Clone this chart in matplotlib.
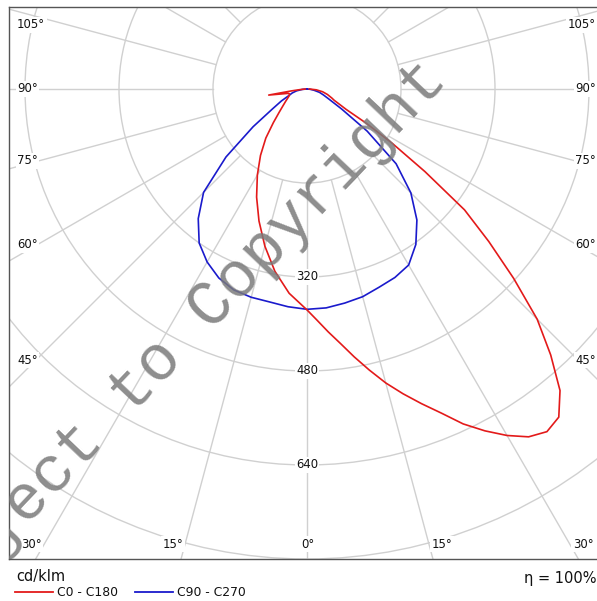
import numpy as np
import matplotlib
matplotlib.use("Agg")
import matplotlib.pyplot as plt
from matplotlib.patches import Circle
from matplotlib.lines import Line2D

# ---------------- data (cd/klm) ----------------
# C0 half-plane (drawn to the right)
gamma_c0 = [0, 2.5, 5, 7.5, 10, 12.5, 15, 17.5, 20, 22.5, 25, 27.5, 30, 32.5, 35,
            37.5, 40, 42.5, 45, 47.5, 50, 52.5, 55, 57.5, 60, 62.5, 65, 67.5, 70,
            75, 80, 85, 90]
i_c0 = [376, 394, 415, 437, 463, 490, 518, 544, 570, 597, 629, 656, 681, 702, 712,
        704, 670, 614, 554, 477, 404, 338, 245, 172, 116, 75, 60, 50, 45,
        36, 27, 16, 4]
# C180 half-plane (drawn to the left)
gamma_c180 = [0, 5, 10, 15, 20, 25, 30, 35, 40, 45, 50, 55, 60, 65, 70, 75, 77, 81, 83, 85, 90]
i_c180 = [376, 349, 315, 277, 239, 203, 169, 138, 109, 81, 62, 50, 42, 36, 32, 31, 33, 66, 27, 12, 3]
# C90 half-plane (right) and C270 half-plane (left)
gamma_c90 = [0, 5, 10, 15, 20, 25, 30, 35, 40, 45, 50, 55, 60, 65, 70, 75, 80, 85, 90]
i_c90 = [375, 374, 370, 366, 359, 354, 346, 323, 291, 250, 198, 125, 68, 42, 30, 22, 12, 5, 0]
gamma_c270 = [0, 5, 10, 15, 20, 25, 30, 35, 40, 45, 50, 55, 60, 65, 70, 75, 80, 85, 90]
i_c270 = [375, 372, 368, 367, 364, 355, 340, 320, 288, 249, 180, 112, 68, 48, 33, 26, 18, 8, 0]

ring_values = [160, 320, 480, 640, 800, 960]
ring_labels = ["320", "480", "640"]
angle_step = 15
legend_names = ["C0 - C180", "C90 - C270"]
unit_label = "cd/klm"
eta_label = "η = 100%"

# ---------------- layout ----------------
W, H = 597, 601
fig = plt.figure(figsize=(W / 100, H / 100), dpi=100)
plt.rcParams['font.family'] = ['DejaVu Sans']

cx, cy = 307, 89            # pixel centre of diagram
px_per_cd = 94 / 160.0
fl, ft, fb, fr = 9, 7, 559, 599   # frame edges in px

ax = fig.add_axes([fl / W, 1 - fb / H, (fr - fl) / W, (fb - ft) / H])
ax.set_xlim((fl - cx) / px_per_cd, (fr - cx) / px_per_cd)
ax.set_ylim((cy - fb) / px_per_cd, (cy - ft) / px_per_cd)
ax.set_xticks([]); ax.set_yticks([])
for s in ['top', 'left', 'bottom']:
    ax.spines[s].set_color('#555555')
    ax.spines[s].set_linewidth(1.0)
ax.spines['right'].set_visible(False)


def px2data(x, y):
    return (x - cx) / px_per_cd, (cy - y) / px_per_cd


grid_c = '#d0d0d0'
for r in ring_values:
    ax.add_patch(Circle((0, 0), r, fill=False, ec=grid_c, lw=1.0, zorder=1))
for a in range(0, 360, angle_step):
    t = np.deg2rad(a)
    ax.plot([160 * np.sin(t), 1400 * np.sin(t)], [-160 * np.cos(t), -1400 * np.cos(t)],
            color=grid_c, lw=1.0, zorder=1)

bb = dict(boxstyle='square,pad=0.12', fc='white', ec='none')
for lab in ring_labels:
    ax.text(0, -float(lab), lab, ha='center', va='center', fontsize=8.4,
            color='#111111', bbox=bb, zorder=3)

# angle labels (positions in px)
left_lbls = [("105°", 25), ("90°", 89), ("75°", 161), ("60°", 245), ("45°", 360)]
for txt, yy in left_lbls:
    x, y = px2data(17, yy)
    ax.text(x, y, txt, ha='left', va='center', fontsize=8.4, color='#111111', bbox=bb, zorder=3)
    x, y = px2data(596, yy)
    ax.text(x, y, txt, ha='right', va='center', fontsize=8.4, color='#111111', bbox=bb, zorder=3)
bottom_lbls = [("30°", 31), ("15°", 173), ("0°", 307.5), ("15°", 442), ("30°", 583)]
for txt, xx in bottom_lbls:
    x, y = px2data(xx, 544)
    ax.text(x, y, txt, ha='center', va='center', fontsize=8.4, color='#111111', bbox=bb, zorder=3)


def curve(g_right, i_right, g_left, i_left):
    gr = np.deg2rad(np.asarray(g_right, float)); ir = np.asarray(i_right, float)
    gl = np.deg2rad(np.asarray(g_left, float)); il = np.asarray(i_left, float)
    xs = np.concatenate([-il[::-1] * np.sin(gl[::-1]), ir * np.sin(gr)])
    ys = np.concatenate([-il[::-1] * np.cos(gl[::-1]), -ir * np.cos(gr)])
    return xs, ys


red = '#e31a1a'
blue = '#1a1acc'
xs, ys = curve(gamma_c90, i_c90, gamma_c270, i_c270)
ax.plot(xs, ys, color=blue, lw=1.2, zorder=4)
xs, ys = curve(gamma_c0, i_c0, gamma_c180, i_c180)
ax.plot(xs, ys, color=red, lw=1.2, zorder=4)

# watermark
wx, wy = px2data(172, 348)
ax.text(wx, wy, "Subject to Copyright", family='Liberation Mono', fontsize=46,
        rotation=46.5, rotation_mode='anchor', ha='center', va='center',
        color='#7a7a7a', alpha=0.85, zorder=5, clip_on=True)

# ---------------- below-frame texts / legend ----------------
fig.text(16 / W, 1 - 577 / H, unit_label, ha='left', va='center', fontsize=10.5, color='#111111')
fig.text(596 / W, 1 - 578 / H, eta_label, ha='right', va='center', fontsize=10.5, color='#111111')
fig.add_artist(Line2D([15 / W, 53 / W], [1 - 592 / H, 1 - 592 / H], color=red, lw=1.3))
fig.text(57 / W, 1 - 592 / H, legend_names[0], ha='left', va='center', fontsize=8.9, color='#111111')
fig.add_artist(Line2D([135 / W, 173 / W], [1 - 592 / H, 1 - 592 / H], color=blue, lw=1.3))
fig.text(177 / W, 1 - 592 / H, legend_names[1], ha='left', va='center', fontsize=8.9, color='#111111')

fig.savefig("out.png", dpi=100, facecolor='white')
